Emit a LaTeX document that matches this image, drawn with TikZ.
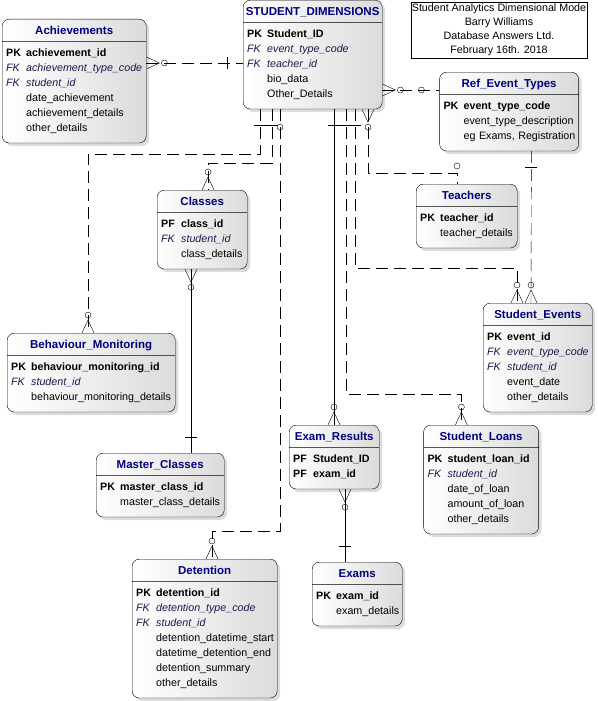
\documentclass[tikz,border=0pt]{standalone}
\usepackage{fontspec}
\setmainfont{Liberation Sans}
\usetikzlibrary{shapes,shadows,positioning}
\definecolor{headblue}{RGB}{0,0,128}
\definecolor{fkblue}{RGB}{25,25,80}
\tikzset{x=1pt, y=-1pt, font=\fontsize{10.7}{15}\selectfont}
\tikzstyle{entity} = [draw, rectangle split, rectangle split parts=2, rounded corners=7pt, inner xsep=4pt, inner ysep=0pt, align=left, anchor=north west, left color=white, right color=gray!28, drop shadow={shadow xshift=3pt, shadow yshift=-3pt, fill=gray!55}]
\tikzstyle{notebox} = [draw, fill=white, minimum width=176pt, minimum height=56pt, inner sep=0pt, align=center, font=\fontsize{10.7}{14}\selectfont]
\tikzstyle{rel} = [draw, dash pattern=on 12pt off 6pt]
\tikzstyle{idrel} = [draw]
\tikzset{
  many/.pic={\draw[solid] (-6,0) -- (0,-13) -- (6,0); \draw[solid] (0,-18) circle (3pt);},
  one/.pic={\draw[solid] (-6,-16) -- (6,-16);},
  zero/.pic={\draw[solid] (0,-18) circle (3pt);}
}
\newcommand{\ehead}[1]{\noindent\makebox[\linewidth]{\rule[-7pt]{0pt}{22pt}\fontsize{11.5}{14}\selectfont\bfseries\color{headblue}#1}}
\newcommand{\rs}{\rule[-4pt]{0pt}{11pt}}
\newcommand{\pk}[1]{\mbox{\rs\makebox[20pt][l]{\bfseries PK}\textbf{#1}}}
\newcommand{\pf}[1]{\mbox{\rs\makebox[20pt][l]{\bfseries PF}\textbf{#1}}}
\newcommand{\fk}[1]{\mbox{\rs\color{fkblue}\itshape\makebox[20pt][l]{FK}#1}}
\newcommand{\fld}[1]{\mbox{\rs\hspace*{20pt}#1}}
\newcommand{\fields}[1]{\noindent\rule{0pt}{15pt}#1\rule[-11pt]{0pt}{0pt}}

\begin{document}
\begin{tikzpicture}
    \useasboundingbox (0,0) rectangle (597,701);

    % tables
    \node [entity, text width=131pt] (sd) at (243,0) {\ehead{STUDENT\_DIMENSIONS}
        \nodepart{two}\fields{\pk{Student\_ID}\\ \fk{event\_type\_code}\\ \fk{teacher\_id}\\ \fld{bio\_data}\\ \fld{Other\_Details}}};
    \node [entity, text width=136pt] (ach) at (2,19) {\ehead{Achievements}
        \nodepart{two}\fields{\pk{achievement\_id}\\ \fk{achievement\_type\_code}\\ \fk{student\_id}\\ \fld{date\_achievement}\\ \fld{achievement\_details}\\ \fld{other\_details}}};
    \node [entity, text width=131pt, below right=72pt and 57pt of sd.north east, anchor=north west] (ref) {\ehead{Ref\_Event\_Types}
        \nodepart{two}\fields{\pk{event\_type\_code}\\ \fld{event\_type\_description}\\ \fld{eg Exams, Registration}}};
    \node [entity, text width=82pt] (cls) at (157,190) {\ehead{Classes}
        \nodepart{two}\fields{\pf{class\_id}\\ \fk{student\_id}\\ \fld{class\_details}}};
    \node [entity, text width=93pt] (tch) at (416,184) {\ehead{Teachers}
        \nodepart{two}\fields{\pk{teacher\_id}\\ \fld{teacher\_details}}};
    \node [entity, text width=101pt] (se) at (483,303) {\ehead{Student\_Events}
        \nodepart{two}\fields{\pk{event\_id}\\ \fk{event\_type\_code}\\ \fk{student\_id}\\ \fld{event\_date}\\ \fld{other\_details}}};
    \node [entity, text width=160pt] (bm) at (7,333) {\ehead{Behaviour\_Monitoring}
        \nodepart{two}\fields{\pk{behaviour\_monitoring\_id}\\ \fk{student\_id}\\ \fld{behaviour\_monitoring\_details}}};
    \node [entity, text width=120pt] (mc) at (96,453) {\ehead{Master\_Classes}
        \nodepart{two}\fields{\pk{master\_class\_id}\\ \fld{master\_class\_details}}};
    \node [entity, text width=82pt] (er) at (289,425) {\ehead{Exam\_Results}
        \nodepart{two}\fields{\pf{Student\_ID}\\ \pf{exam\_id}}};
    \node [entity, text width=107pt, right=44pt of er.north east, anchor=north west] (sl) {\ehead{Student\_Loans}
        \nodepart{two}\fields{\pk{student\_loan\_id}\\ \fk{student\_id}\\ \fld{date\_of\_loan}\\ \fld{amount\_of\_loan}\\ \fld{other\_details}}};
    \node [entity, text width=137pt] (det) at (132,559) {\ehead{Detention}
        \nodepart{two}\fields{\pk{detention\_id}\\ \fk{detention\_type\_code}\\ \fk{student\_id}\\ \fld{detention\_datetime\_start}\\ \fld{datetime\_detention\_end}\\ \fld{detention\_summary}\\ \fld{other\_details}}};
    \node [entity, text width=82pt] (ex) at (312,562) {\ehead{Exams}
        \nodepart{two}\fields{\pk{exam\_id}\\ \fld{exam\_details}}};

    \node [notebox] (note) at (499,30) {Student Analytics Dimensional Mode\\Barry Williams\\Database Answers Ltd.\\February 16th. 2018};

    % relationships
    \draw [rel] ([yshift=-44]ach.north east) pic[rotate=-90]{many} -- ([yshift=-63]sd.north west) pic[rotate=90]{one};
    \draw [rel] ([yshift=-90]sd.north east) pic[rotate=-90]{many} -- ([yshift=-18]ref.north west) pic[rotate=90]{zero};
    \draw [rel] ([xshift=92]ref.south west) pic[rotate=180]{one} -- ([xshift=48]se.north west) pic{many};
    \draw [rel] ([xshift=125]sd.south west) pic[rotate=180]{many} -- ++(0,64) -| ([xshift=41]tch.north west) pic{zero};
    \draw [rel] ([xshift=17]sd.south west) pic[rotate=180]{one} -- ++(0,45) -| ([xshift=81]bm.north west) pic{many};
    \draw [rel] ([xshift=29]sd.south west) pic[rotate=180]{one} -- ++(0,54) -| ([xshift=51]cls.north west) pic{many};
    \draw [rel] ([xshift=37]sd.south west) pic[rotate=180]{zero} -- ++(0,422) -| ([xshift=80]det.north west) pic{many};
    \draw [idrel] ([xshift=91]sd.south west) pic[rotate=180]{one} -- ([xshift=45]er.north west) pic{many};
    \draw [rel] ([xshift=103]sd.south west) pic[rotate=180]{one} -- ++(0,285) -| ([xshift=38]sl.north west) pic{many};
    \draw [rel] ([xshift=112]sd.south west) pic[rotate=180]{one} -- ++(0,159) -| ([xshift=34]se.north west) pic{many};
    \draw [idrel] ([xshift=34]cls.south west) pic[rotate=180]{many} -- ([xshift=95]mc.north west) pic{one};
    \draw [idrel] ([xshift=56]er.south west) pic[rotate=180]{many} -- ([xshift=33]ex.north west) pic{one};
\end{tikzpicture}
\end{document}
